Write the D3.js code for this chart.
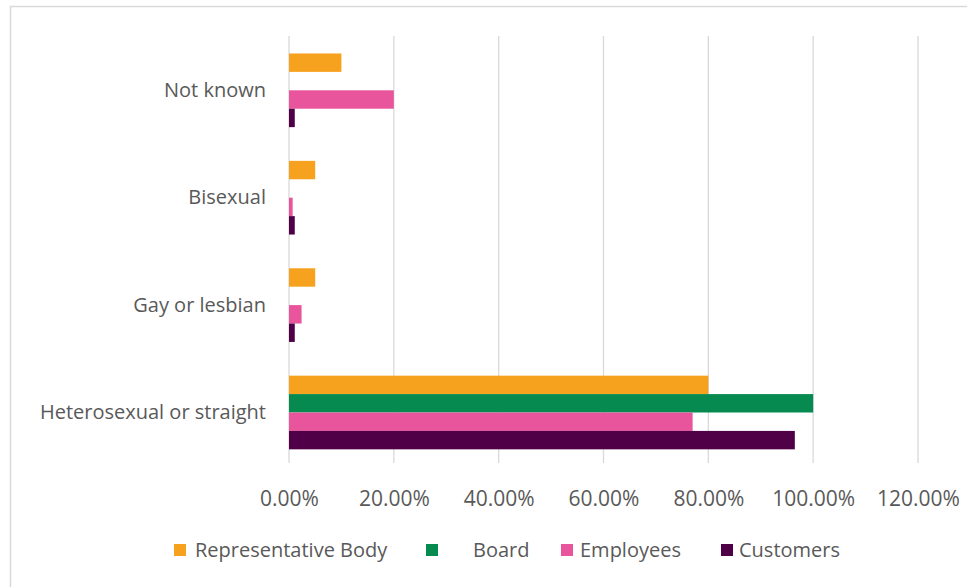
<!DOCTYPE html>
<html>
<head>
<meta charset="utf-8">
<script src="https://cdn.jsdelivr.net/npm/d3@7"></script>
<style>
  html, body { margin: 0; padding: 0; background: #fff; }
  svg { display: block; }
  text { font-family: "Open Sans", "Noto Sans", sans-serif; fill: #595959; }
</style>
</head>
<body>
<svg id="chart" width="967" height="587"></svg>
<script>
// Categories, top to bottom
const categories = ["Not known", "Bisexual", "Gay or lesbian", "Heterosexual or straight"];
// Series, drawn top to bottom inside each category
const seriesNames = ["Representative Body", "Board", "Employees", "Customers"];
const seriesColors = ["#F6A21E", "#078A4F", "#E8559C", "#4F0046"];
// Shares per category (same order as categories)
const representativeBody = [0.10, 0.05, 0.05, 0.80];
const board              = [0.00, 0.00, 0.00, 1.00];
const employees          = [0.20, 0.007, 0.024, 0.77];
const customers          = [0.011, 0.011, 0.011, 0.965];
const tickValues = [0, 0.2, 0.4, 0.6, 0.8, 1.0, 1.2];

const seriesValues = [representativeBody, board, employees, customers];
const rows = [];
categories.forEach((c, i) => {
  seriesNames.forEach((s, j) => rows.push({ category: c, series: s, value: seriesValues[j][i], color: seriesColors[j] }));
});

const svg = d3.select("#chart");

// Outer chart frame
svg.append("rect")
  .attr("x", 10.5).attr("y", 6.5)
  .attr("width", 1000).attr("height", 1000)
  .attr("fill", "none").attr("stroke", "#d9d9d9").attr("stroke-width", 1.5);

const x = d3.scaleLinear().domain([0, 1.2]).range([289, 918]);
const y = d3.scaleBand().domain(categories).range([36.6, 466.2]);
const gap = y.bandwidth() * 0.157;
const ySub = d3.scaleBand().domain(seriesNames).range([gap, y.bandwidth() - gap]);

// Vertical gridlines
svg.append("g")
  .selectAll("line")
  .data(tickValues)
  .join("line")
  .attr("x1", d => x(d)).attr("x2", d => x(d))
  .attr("y1", 36).attr("y2", 463)
  .attr("stroke", "#d9d9d9").attr("stroke-width", 1.3);

// Bars
svg.append("g")
  .selectAll("rect")
  .data(rows)
  .join("rect")
  .attr("x", x(0))
  .attr("y", d => y(d.category) + ySub(d.series))
  .attr("width", d => x(d.value) - x(0))
  .attr("height", ySub.bandwidth())
  .attr("fill", d => d.color);

// Category labels
const yAxis = d3.axisLeft(y).tickSize(0).tickPadding(23);
const gy = svg.append("g").attr("transform", `translate(${x(0)},0)`).call(yAxis);
gy.select(".domain").remove();
gy.selectAll("text").style("font-size", "20px").attr("fill", "#595959");

// Percentage tick labels
const xAxis = d3.axisBottom(x).tickValues(tickValues).tickSize(0).tickPadding(0)
  .tickFormat(d => d3.format(".2%")(d));
const gx = svg.append("g").attr("transform", "translate(0,491)").call(xAxis);
gx.select(".domain").remove();
gx.selectAll("text").style("font-size", "21px").attr("fill", "#595959");

// Legend
const legendX = [174, 426, 561, 721];
const legendTextX = [195, 473, 580, 739];
const legend = svg.append("g").selectAll("g")
  .data(seriesNames)
  .join("g");
legend.append("rect")
  .attr("x", (d, i) => legendX[i]).attr("y", 544)
  .attr("width", 12).attr("height", 12)
  .attr("fill", (d, i) => seriesColors[i]);
legend.append("text")
  .attr("x", (d, i) => legendTextX[i]).attr("y", 550)
  .attr("dy", "0.35em")
  .style("font-size", "20px")
  .text(d => d);
</script>
</body>
</html>
